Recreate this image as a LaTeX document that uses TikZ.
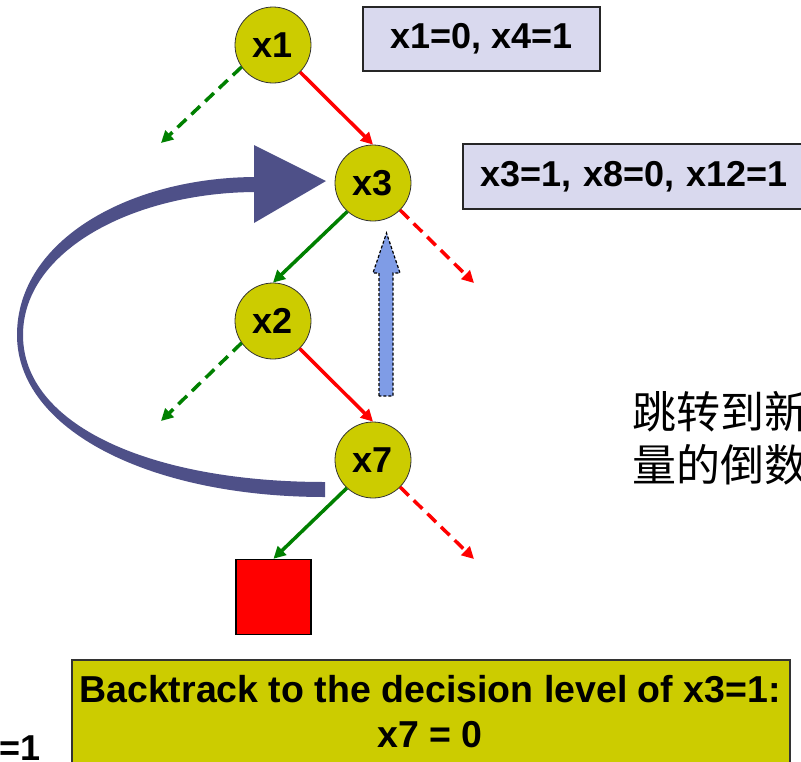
\documentclass[tikz,border=0pt]{standalone}
\usepackage{fontspec}
\setmainfont{Liberation Sans}
\newfontfamily\cjk{Noto Sans CJK SC}
\usetikzlibrary{arrows.meta}
\definecolor{ny}{HTML}{CCCC00}
\definecolor{lav}{HTML}{D9D9EE}
\definecolor{navy}{HTML}{4E5088}
\definecolor{sky}{HTML}{7F9CE6}
\definecolor{dgreen}{HTML}{008000}
\begin{document}
\begin{tikzpicture}[x=1pt,y=-1pt,
  var/.style={circle, fill=ny, draw=black!80, line width=0.8pt, minimum size=76pt, inner sep=0pt,
    font=\fontsize{36}{36}\selectfont\bfseries},
  lbl/.style={rectangle, fill=lav, draw=black!85, line width=1.5pt, inner sep=0pt,
    font=\fontsize{36}{36}\selectfont\bfseries},
  tipa/.style={-{Triangle[length=12pt,width=12pt]}},
  rline/.style={tipa, red, line width=3.5pt},
  gline/.style={tipa, dgreen, line width=3.5pt},
  rdash/.style={rline, dash pattern=on 12pt off 7pt},
  gdash/.style={gline, dash pattern=on 12pt off 7pt},
]
\useasboundingbox (0,0) rectangle (801,761);

% big curved navy arrow
\fill[navy] (325,497) .. controls (150,497) and (17,430) .. (17,335)
  .. controls (17,240) and (130,177) .. (257,177) -- (257,192)
  .. controls (135,192) and (23,250) .. (23,335)
  .. controls (23,425) and (150,482) .. (325,482) -- cycle;
\fill[navy] (254,145) -- (326,181) -- (254,223) -- cycle;

% nodes
\node[var] (x1) at (273,45) {x1};
\node[var] (x3) at (373,183) {x3};
\node[var] (x2) at (273,321) {x2};
\node[var] (x7) at (373,460) {x7};
\node[rectangle, fill=red, draw=black, line width=1.5pt, minimum size=75pt, inner sep=0pt] (sq) at (273.5,597) {};

\node[lbl, minimum width=237pt, minimum height=64pt] (b1) at (481.5,39) {x1=0, x4=1};
\node[lbl, anchor=west, minimum height=65pt, text width=340pt, align=left, inner xsep=18pt] (b2) at (462,176.5) {x3=1, x8=0, x12=1};

% free ends
\coordinate (g1) at (161,143);
\coordinate (g2) at (161,421);
\coordinate (r3) at (474,283);
\coordinate (r7) at (474,559);

% connectors
\draw[rline] (x1.-45) -- (x3.north);
\draw[gdash] (x1.-145) -- (g1);
\draw[gline] (x3.-132) -- (x2.north);
\draw[rdash] (x3.-45) -- (r3);
\draw[gdash] (x2.-145) -- (g2);
\draw[rline] (x2.-46) -- (x7.north);
\draw[gline] (x7.-133) -- (sq.north);
\draw[rdash] (x7.-45) -- (r7);

% blue dashed up arrow
\filldraw[fill=sky, draw=black, line width=1.2pt, dash pattern=on 3pt off 2pt]
  (379,396) -- (379,273) -- (373,273) -- (386.5,233) -- (400,273) -- (393,273) -- (393,396) -- cycle;

% Chinese text
\node[anchor=base west, inner sep=0pt, font=\cjk\fontsize{44}{44}\selectfont] (c1) at (632,428) {跳转到新};
\node[anchor=base west, inner sep=0pt, font=\cjk\fontsize{44}{44}\selectfont] (c2) at (632,481) {量的倒数};

% bottom box
\node[rectangle, fill=ny, draw=black!80, line width=1.5pt, anchor=north west,
  minimum width=718pt, minimum height=130pt] (bt) at (71,659) {};
\node[anchor=base, inner sep=0pt, font=\fontsize{37.5}{37.5}\selectfont\bfseries] (t1) at (430,702) {Backtrack to the decision level of x3=1:};
\node[anchor=base, inner sep=0pt, font=\fontsize{37.5}{37.5}\selectfont\bfseries] (t2) at (430,747) {x7 = 0};

\node[anchor=base east, inner sep=0pt, font=\fontsize{36}{36}\selectfont\bfseries] (eq) at (41,760) {=1};
\end{tikzpicture}
\end{document}
